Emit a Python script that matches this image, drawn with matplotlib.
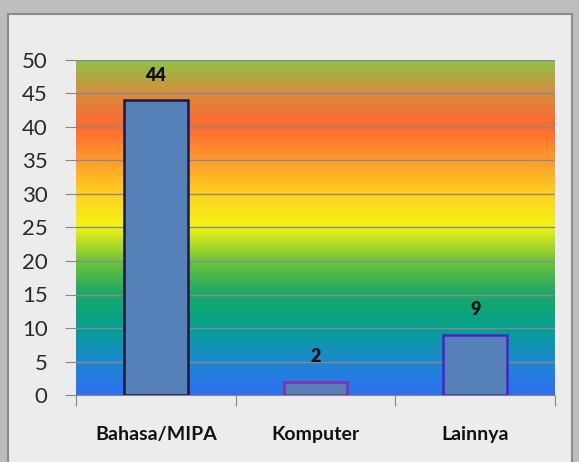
import matplotlib
matplotlib.use("Agg")
import matplotlib.pyplot as plt
import numpy as np
from matplotlib.colors import LinearSegmentedColormap
from matplotlib.patches import Rectangle

categories = ["Bahasa/MIPA", "Komputer", "Lainnya"]
values = [44, 2, 9]
yticks = [0, 5, 10, 15, 20, 25, 30, 35, 40, 45, 50]
edge_colors = ["#1a1a40", "#8a2aa8", "#4a22c8"]

W, H = 579, 462
fig = plt.figure(figsize=(W / 100, H / 100), dpi=100)
fig.patch.set_facecolor("#bdbdbd")

# white panel
panel = Rectangle((8 / W, -0.02), (572 - 8) / W, (456 - 8) / H + 0.02,
                  transform=fig.transFigure, facecolor="#ececec",
                  edgecolor="#8c8c8c", linewidth=1.5, zorder=-10)
fig.add_artist(panel)

left, right, top, bottom = 76, 555, 60, 395
ax = fig.add_axes([left / W, 1 - bottom / H, (right - left) / W, (bottom - top) / H])
ax.set_zorder(1)

stops = [
    (0.00, "#2f6ff0"),
    (0.10, "#1c88d0"),
    (0.20, "#05a090"),
    (0.30, "#1aa866"),
    (0.40, "#70c43a"),
    (0.50, "#f2f414"),
    (0.60, "#ffd01e"),
    (0.70, "#ff9a2c"),
    (0.80, "#ff6830"),
    (0.90, "#d88c3c"),
    (1.00, "#8cc448"),
]
cmap = LinearSegmentedColormap.from_list("bg", stops)
grad = np.linspace(0, 1, 256).reshape(-1, 1)
ax.imshow(grad, extent=[0, 3, 0, 50], origin="lower", aspect="auto", cmap=cmap, zorder=0)
ax.set_xlim(0, 3)
ax.set_ylim(0, 50)

for y in yticks[1:]:
    ax.axhline(y, color="#8a8a8a", linewidth=1.0, zorder=1)

x = np.arange(len(categories)) + 0.5
bars = ax.bar(x, values, width=0.4, color="#5580b8", edgecolor=edge_colors, linewidth=1.8, zorder=3)
for xi, v in zip(x, values):
    ax.text(xi, v + 3.7, str(v), ha="center", va="center", fontsize=13,
            fontweight="heavy", family="Lato", color="#111111", zorder=4)

for s in ["top", "right"]:
    ax.spines[s].set_visible(False)
ax.spines["left"].set_visible(False)
ax.spines["bottom"].set_color("#888888")

ax.set_yticks(yticks)
ax.set_yticklabels([str(t) for t in yticks], family="Lato", fontsize=16, color="#2a2a2a")
ax.tick_params(axis="y", length=8, color="#888888", pad=12.5)
ax.set_xticks([0, 1, 2, 3])
ax.set_xticklabels([])
ax.set_xticks(x, minor=True)
ax.set_xticklabels(categories, minor=True, family="Lato", fontsize=14, fontweight="bold", color="#111111")
ax.tick_params(axis="x", which="major", length=8, color="#888888")
ax.tick_params(axis="x", which="minor", length=0, pad=22)

fig.savefig("out.png", dpi=100, facecolor=fig.get_facecolor())
